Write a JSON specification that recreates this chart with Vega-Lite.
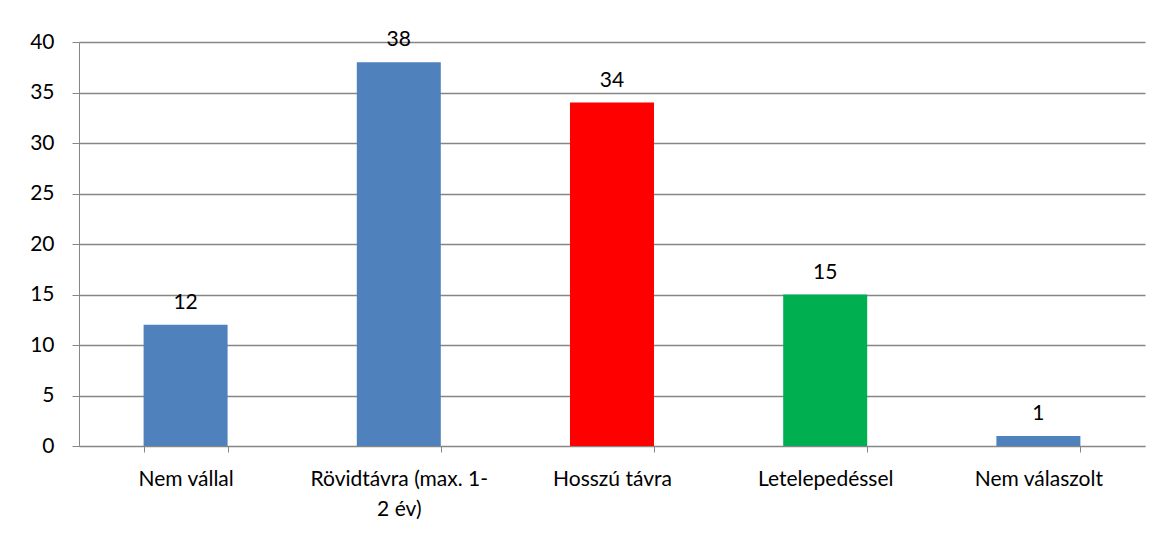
{
  "$schema": "https://vega.github.io/schema/vega-lite/v6.json",
  "width": 1066,
  "height": 404,
  "autosize": {"type": "none"},
  "padding": {"left": 79, "top": 42, "right": 24, "bottom": 90},
  "background": "white",
  "config": {"view": {"stroke": null}, "font": "Lato"},
  "data": {"values": [
    {"cat": "Nem vállal", "value": 12, "color": "#4F81BD"},
    {"cat": "Rövidtávra (max. 1-2 év)", "value": 38, "color": "#4F81BD"},
    {"cat": "Hosszú távra", "value": 34, "color": "#FF0000"},
    {"cat": "Letelepedéssel", "value": 15, "color": "#00B050"},
    {"cat": "Nem válaszolt", "value": 1, "color": "#4F81BD"}
  ]},
  "encoding": {
    "x": {
      "field": "cat", "type": "nominal", "sort": null, "title": null,
      "scale": {"paddingInner": 0.606, "paddingOuter": 0.303},
      "axis": {
        "labelAngle": 0, "labelFont": "Lato", "labelFontSize": 21, "labelColor": "#000000",
        "labelPadding": 16, "domainColor": "#868686", "tickColor": "#868686", "tickSize": 6,
        "tickBand": "extent", "labelLimit": 300, "labelLineHeight": 30,
        "labelExpr": "datum.value == 'Rövidtávra (max. 1-2 év)' ? ['Rövidtávra (max. 1-', '2 év)'] : datum.value"
      }
    },
    "y": {
      "field": "value", "type": "quantitative", "title": null,
      "scale": {"domain": [0, 40], "nice": false},
      "axis": {
        "values": [0, 5, 10, 15, 20, 25, 30, 35, 40], "labelFont": "Lato", "labelFontSize": 21,
        "labelColor": "#000000", "labelPadding": 18, "domainColor": "#868686", "tickColor": "#868686",
        "tickSize": 7, "gridColor": "#868686", "gridWidth": 1.3, "grid": true
      }
    }
  },
  "layer": [
    {"mark": {"type": "bar"}, "encoding": {"color": {"field": "color", "type": "nominal", "scale": null}}},
    {"mark": {"type": "text", "dy": -22, "fontSize": 21, "font": "Lato", "color": "#000000"},
     "encoding": {"text": {"field": "value", "type": "quantitative"}}}
  ]
}
